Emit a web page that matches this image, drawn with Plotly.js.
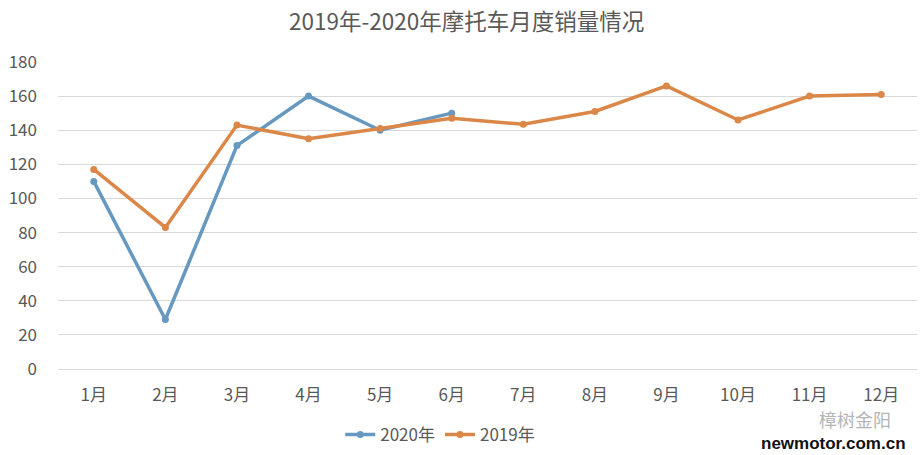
<!DOCTYPE html>
<html>
<head>
<meta charset="utf-8">
<script src="https://cdn.plot.ly/plotly-3.0.1.min.js"></script>
<style>
  html, body { margin: 0; padding: 0; background: #fff; }
  #plot { width: 924px; height: 455px; }
</style>
</head>
<body>
<div id="plot"></div>
<script>
// monthly sales
const months = ['1月','2月','3月','4月','5月','6月','7月','8月','9月','10月','11月','12月'];
const sales2020 = [110, 29, 131, 160, 140, 150];
const sales2019 = [117, 83, 143, 135, 141, 147, 143.5, 151, 166, 146, 160, 161];
const yTicks = [0, 20, 40, 60, 80, 100, 120, 140, 160, 180];

const blue = '#6798c0';
const orange = '#db8748';
const font = '"Noto Sans CJK SC", "Noto Sans", sans-serif';

const traces = [
	{
		x: months.slice(0, sales2020.length), y: sales2020,
		type: 'scatter', mode: 'lines+markers', name: '2020年',
		line: {color: blue, width: 3.5}, marker: {color: blue, size: 7}
	},
	{
		x: months, y: sales2019,
		type: 'scatter', mode: 'lines+markers', name: '2019年',
		line: {color: orange, width: 3.5}, marker: {color: orange, size: 7}
	}
];

const layout = {
	width: 924, height: 455,
	margin: {l: 58, r: 7, t: 62, b: 86},
	paper_bgcolor: '#fff', plot_bgcolor: '#fff',
	font: {family: font, color: '#595959', size: 17},
	title: {text: '2019年-2020年摩托车月度销量情况', x: 0.505, xanchor: 'center', y: 0.952, yanchor: 'middle',
		font: {family: font, size: 22.5, color: '#595959'}},
	xaxis: {
		type: 'category', range: [-0.5, 11.5], showgrid: false, zeroline: false, automargin: false,
		showline: false, ticks: '', tickfont: {size: 17, color: '#595959'}, ticklabelstandoff: 14
	},
	yaxis: {
		range: [0, 180], tickvals: yTicks, showgrid: true, gridcolor: '#d9d9d9', gridwidth: 1,
		zeroline: true, zerolinecolor: '#d9d9d9', showline: false, ticks: '', automargin: false,
		tickfont: {size: 17, color: '#595959'}, ticklabelstandoff: 20
	},
	showlegend: true,
	legend: {orientation: 'h', x: 0.445, xanchor: 'center', yref: 'container', y: 0.044, yanchor: 'middle',
		font: {size: 17, color: '#595959'}, itemwidth: 30, traceorder: 'normal'},
	annotations: [
		{text: '樟树金阳', xref: 'paper', yref: 'paper', x: 0.972, y: -0.164, xanchor: 'right', yanchor: 'middle',
			showarrow: false, font: {family: font, size: 18, color: '#b5b5b5'}},
		{text: '<b>newmotor.com.cn</b>', xref: 'paper', yref: 'paper', x: 0.99, y: -0.243, xanchor: 'right', yanchor: 'middle',
			showarrow: false, font: {family: 'Liberation Sans, Arial, sans-serif', size: 17, color: '#111'}}
	]
};

Plotly.newPlot('plot', traces, layout, {displayModeBar: false, staticPlot: true});
</script>
</body>
</html>
